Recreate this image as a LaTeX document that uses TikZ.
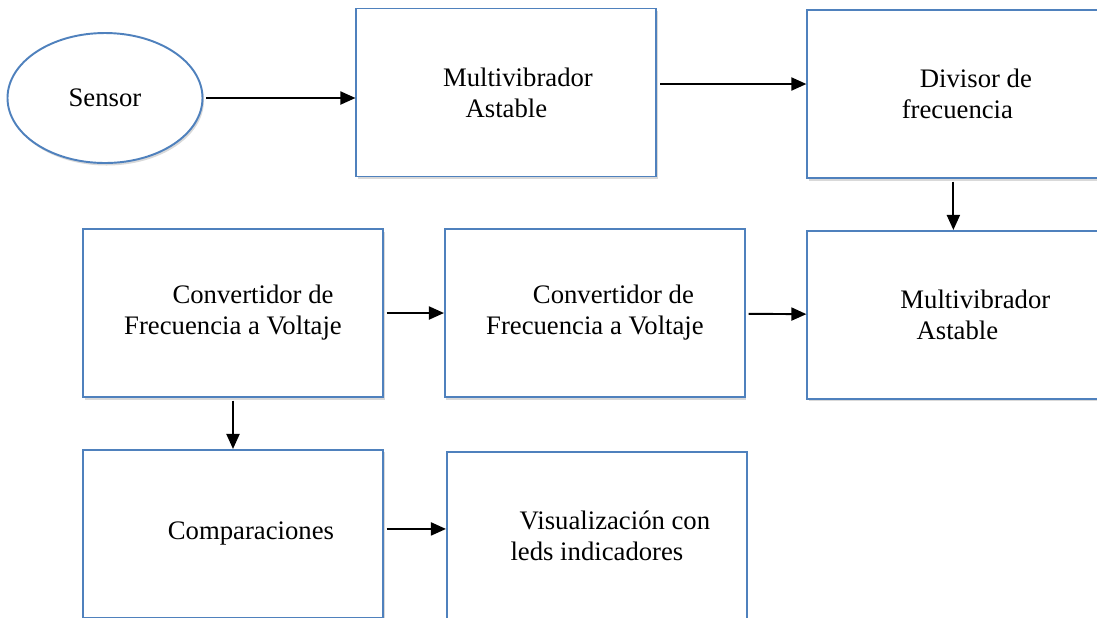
\documentclass[tikz,border=0pt]{standalone}
\usepackage{fontspec}
\setmainfont{Liberation Serif}
\usepackage{xcolor}
\definecolor{BoxBlue}{RGB}{79,129,189}
\usepackage{tikz}
\usetikzlibrary{shapes.geometric,arrows.meta,positioning,shadows}

\begin{document}
\begin{tikzpicture}[
  box/.style={rectangle,draw=BoxBlue,line width=1.1pt,fill=white,
              minimum width=6cm,minimum height=3.36cm,align=center,
              font=\fontsize{15.2}{17.6}\selectfont,
              drop shadow={opacity=0.3,shadow xshift=0.03cm,shadow yshift=-0.05cm}},
  oval/.style={ellipse,draw=BoxBlue,line width=1.1pt,fill=white,
              minimum width=3.9cm,minimum height=2.6cm,inner sep=0pt,
              font=\fontsize{15.2}{17.6}\selectfont,
              drop shadow={opacity=0.3,shadow xshift=0.03cm,shadow yshift=-0.05cm}},
  arr/.style={-{Triangle[length=0.3cm,width=0.26cm]},line width=1.1pt,black,shorten <=1.5pt}
]
  \clip (0,0) rectangle (21.94,-12.34);
  \node[oval] (sensor) at (2.1,-1.96) {Sensor};
  \node[box,right=3.04cm of sensor,yshift=0.11cm] (ma)
    {\hspace*{0.46cm}Multivibrador\\Astable};
  \node[box,right=2.98cm of ma,yshift=-0.03cm] (div)
    {\hspace*{0.74cm}Divisor de\\frecuencia};
  \node[box] (c1) at (4.66,-6.26)
    {\hspace*{0.8cm}Convertidor de\\Frecuencia a Voltaje};
  \node[box,right=1.2cm of c1] (c2)
    {\hspace*{0.74cm}Convertidor de\\Frecuencia a Voltaje};
  \node[box,below=1.02cm of div] (mv)
    {\hspace*{0.72cm}Multivibrador\\Astable};
  \node[box,below=1.02cm of c1] (cmp) {\hspace*{0.72cm}Comparaciones};
  \node[box,right=1.24cm of cmp,yshift=-0.04cm] (vis)
    {\hspace*{0.72cm}Visualización con\\leds indicadores};
  \draw[arr] (sensor.east) -- (sensor.east -| ma.west);
  \draw[arr] ([yshift=0.17cm]ma.east) -- ([yshift=0.17cm]ma.east -| div.west);
  \draw[arr] ([xshift=-0.08cm]div.south) -- ([xshift=-0.08cm]div.south |- mv.north);
  \draw[arr] (c1) -- (c2); \draw[arr] (c2) -- (mv);
  \draw[arr] (c1) -- (cmp);
  \draw[arr] ([yshift=0.1cm]cmp.east) -- ([yshift=0.1cm]cmp.east -| vis.west);
\end{tikzpicture}
\end{document}
